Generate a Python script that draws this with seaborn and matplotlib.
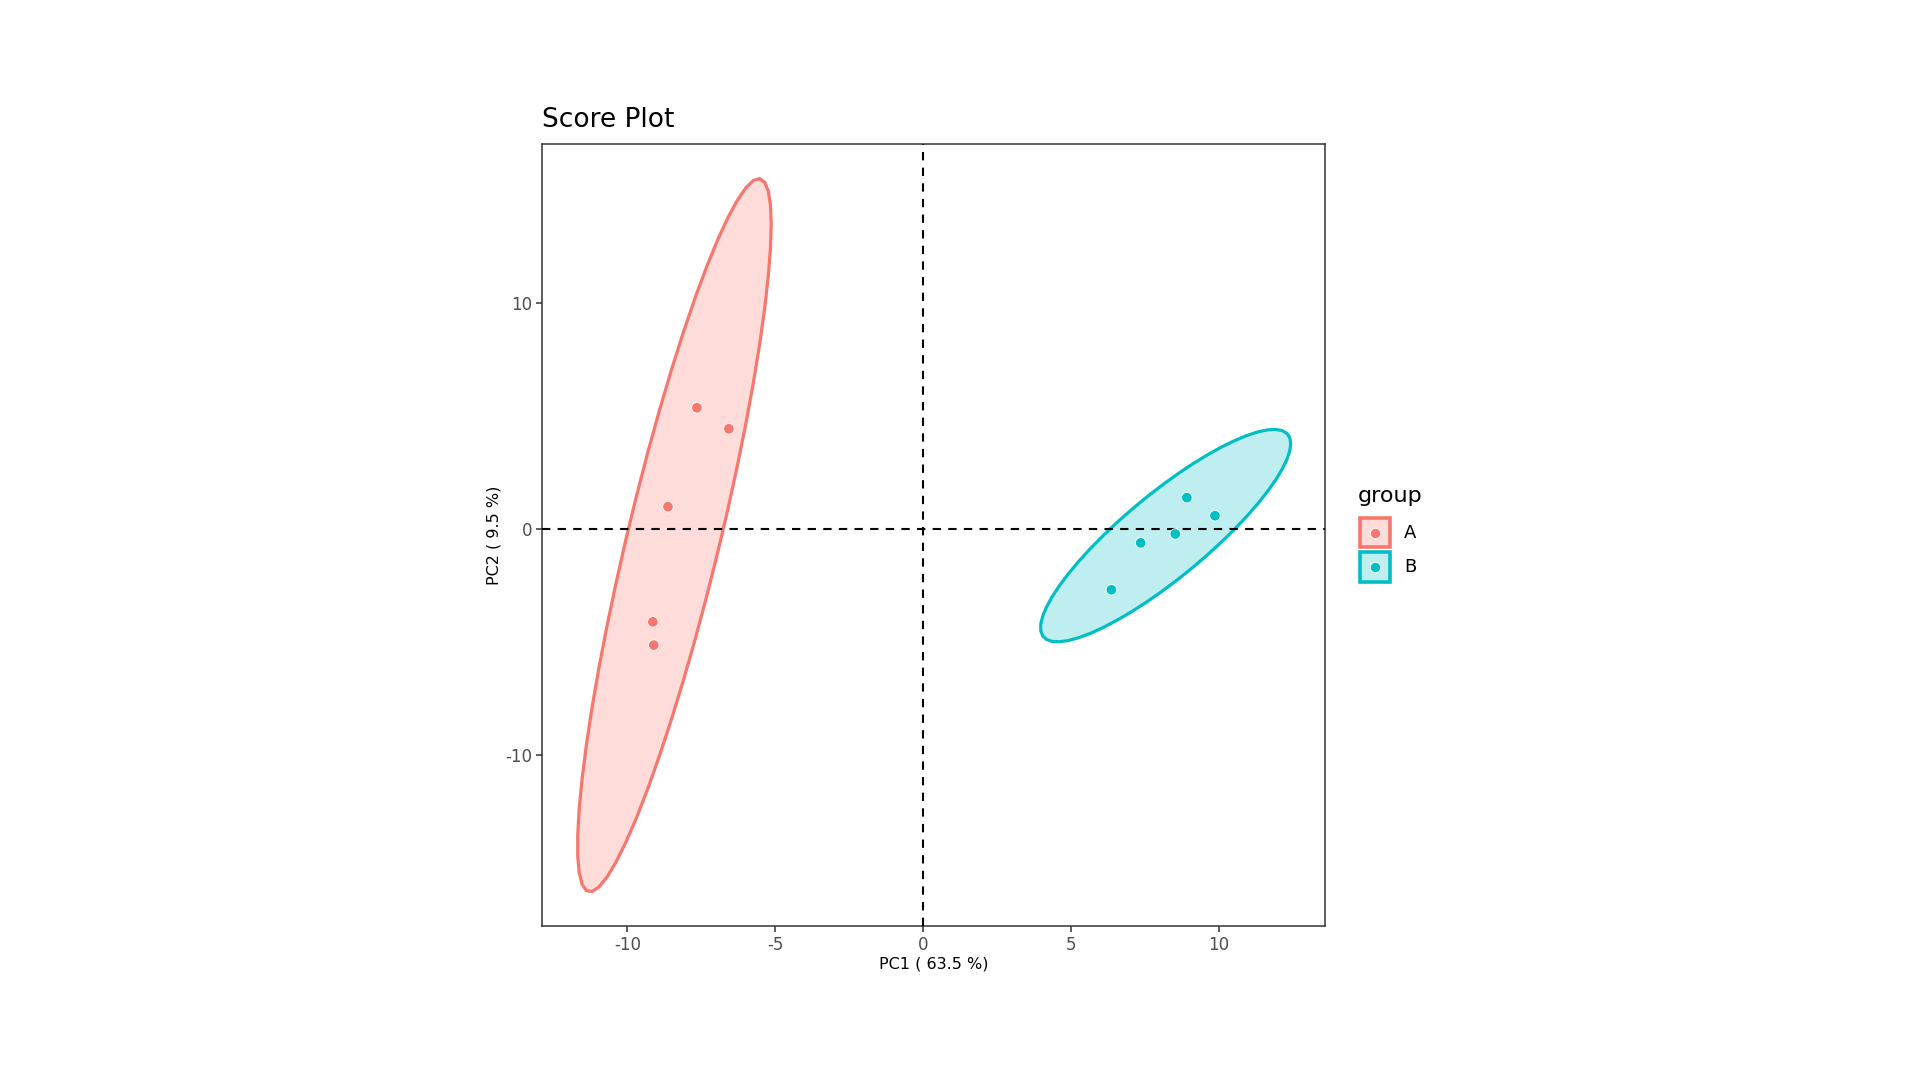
import numpy as np
import pandas as pd
import matplotlib
matplotlib.use("Agg")
import matplotlib.pyplot as plt
import seaborn as sns
from matplotlib.patches import Polygon, Rectangle

# ---- data ----
groups = ["A", "A", "A", "A", "A", "B", "B", "B", "B", "B"]
pc1 = [-7.65, -6.57, -8.63, -9.14, -9.11, 8.91, 9.86, 8.52, 7.35, 6.36]
pc2 = [5.38, 4.45, 1.00, -4.10, -5.13, 1.40, 0.60, -0.21, -0.60, -2.68]
group_levels = ["A", "B"]
palette = {"A": "#F8766D", "B": "#00BFC4"}
x_label = "PC1 ( 63.5 %)"
y_label = "PC2 ( 9.5 %)"
title = "Score Plot"
legend_title = "group"
x_ticks = [-10, -5, 0, 5, 10]
y_ticks = [-10, 0, 10]
level = 0.95

df = pd.DataFrame({"PC1": pc1, "PC2": pc2, "group": groups})


def cov_trob(X, nu=5, maxit=25, tol=0.01):
    n, p = X.shape
    wt = np.ones(n)
    loc = X.mean(axis=0)
    w = np.sqrt(wt)
    Xc = X - loc
    for _ in range(maxit):
        w0 = w
        Xc = X - loc
        A = np.sqrt(w / w.sum())[:, None] * Xc
        _, d, Vt = np.linalg.svd(A, full_matrices=False)
        wX = Xc @ Vt.T @ np.diag(1.0 / d)
        Q = (wX ** 2).sum(axis=1)
        w = (wt * (nu + p)) / (nu + Q)
        loc = (w[:, None] * X).sum(axis=0) / w.sum()
        if np.all(np.abs(w - w0) < tol):
            break
    sw = np.sqrt(w)[:, None] * Xc
    cov = sw.T @ sw / wt.sum()
    return loc, cov


def ellipse_points(X, level, segments=51):
    n = X.shape[0]
    dfn, dfd = 2, n - 1
    center, shape = cov_trob(X)
    U = np.linalg.cholesky(shape).T
    # F(2, d) quantile in closed form
    qf = dfd / 2.0 * ((1 - level) ** (-2.0 / dfd) - 1)
    radius = np.sqrt(dfn * qf)
    ang = np.linspace(0, 2 * np.pi, segments + 1)
    circ = np.column_stack([np.cos(ang), np.sin(ang)])
    return center + radius * (circ @ U)


sns.set_theme(style="white")
plt.rcParams["font.family"] = ["DejaVu Sans"]

fig = plt.figure(figsize=(19.2, 10.8), dpi=100)
ax = fig.add_axes([0.2824, 0.1426, 0.4077, 0.7238])

for g in group_levels:
    sub = df[df["group"] == g]
    E = ellipse_points(sub[["PC1", "PC2"]].to_numpy(), level)
    ax.add_patch(Polygon(E, closed=True, facecolor=palette[g], alpha=0.25,
                         edgecolor="none", zorder=1))
    ax.add_patch(Polygon(E, closed=True, facecolor="none",
                         edgecolor=palette[g], linewidth=2.3, zorder=2))

ax.axvline(0, color="black", linestyle=(0, (4, 3.5)), linewidth=1.5, zorder=3)
ax.axhline(0, color="black", linestyle=(0, (4, 3.5)), linewidth=1.5, zorder=3)

sns.scatterplot(data=df, x="PC1", y="PC2", hue="group", palette=palette,
                hue_order=group_levels, s=58, edgecolor="white", linewidth=0.6,
                ax=ax, zorder=4, legend=False)

ax.set_xlim(-12.88, 13.58)
ax.set_ylim(-17.57, 17.05)
ax.set_xticks(x_ticks)
ax.set_xticklabels([str(t) for t in x_ticks])
ax.set_yticks(y_ticks)
ax.set_yticklabels([str(t) for t in y_ticks])
ax.tick_params(axis="both", which="major", length=4, width=1.1, color="#333333",
               labelsize=12, labelcolor="#4D4D4D", pad=3, bottom=True, left=True)
for sp in ax.spines.values():
    sp.set_color("#333333")
    sp.set_linewidth(1.1)

ax.set_xlabel(x_label, fontsize=11.5, color="black", labelpad=2)
ax.set_ylabel(y_label, fontsize=11.5, color="black", labelpad=3)

fig.text(542 / 1920, 1 - 127 / 1080, title, fontsize=19, color="black",
         ha="left", va="baseline")

# ---- legend drawn in a pixel-coordinate overlay ----
lax = fig.add_axes([0, 0, 1, 1])
lax.set_xlim(0, 1920)
lax.set_ylim(1080, 0)
lax.axis("off")
lax.text(1358, 496, legend_title, fontsize=16, color="black", ha="left", va="center")
key_x, key_w, key_h = 1360, 30, 29.5
key_y0, key_step = 532.7, 34.3
for i, g in enumerate(group_levels):
    cy = key_y0 + i * key_step
    lax.add_patch(Rectangle((key_x, cy - key_h / 2), key_w, key_h,
                            facecolor=matplotlib.colors.to_rgba(palette[g], 0.25),
                            edgecolor=palette[g], linewidth=2.6))
    lax.plot([key_x + key_w / 2], [cy], marker="o", markersize=7.5, linestyle="none",
             markerfacecolor=palette[g], markeredgecolor="white", markeredgewidth=0.6)
    lax.text(1404, cy, g, fontsize=13, color="black", ha="left", va="center")

fig.savefig("out.png", dpi=100, facecolor="white")
